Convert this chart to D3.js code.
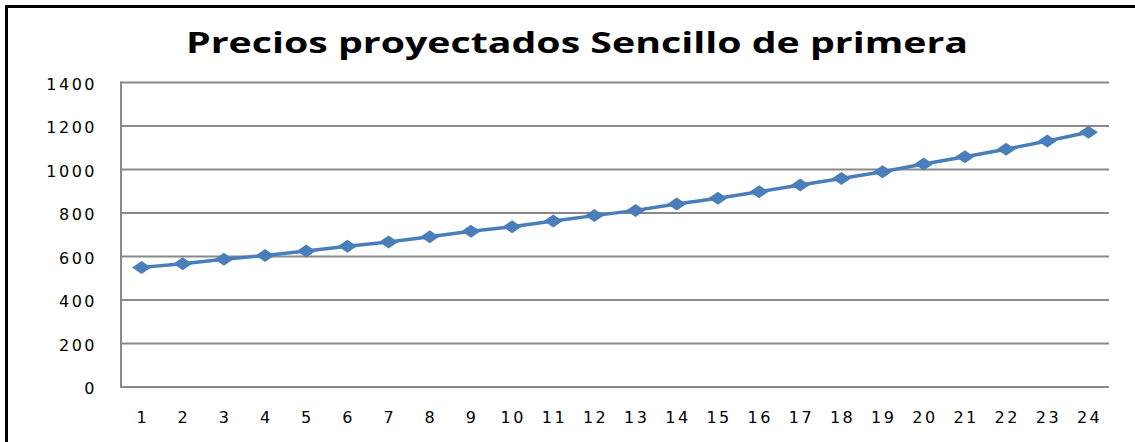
<!DOCTYPE html>
<html lang="es">
    <head>
        <meta charset="UTF-8">
        <title>Precios proyectados Sencillo de primera</title>
        <style>
            body {
                margin: 0;
                background-color: #ffffff;
            }
            text {
                font-family: 'DejaVu Sans', sans-serif;
                fill: #000000;
            }
            .titulo {
                font-family: 'Open Sans', 'DejaVu Sans', sans-serif;
                font-size: 29px;
                font-weight: bold;
            }
            .tick-label {
                font-size: 16px;
                letter-spacing: 2.5px;
            }
            .grid {
                stroke: #8a8a8a;
                stroke-width: 2px;
            }
            .serie {
                fill: none;
                stroke: #4a7ebb;
                stroke-width: 3.5px;
            }
            .marker {
                fill: #4a7ebb;
            }
        </style>
    </head>
    <body>
        <div id="chart"></div>
        <script src="https://d3js.org/d3.v7.min.js"></script>
        <script>
            // datos
            const titulo = "Precios proyectados Sencillo de primera";
            const periodos = ["1","2","3","4","5","6","7","8","9","10","11","12",
                              "13","14","15","16","17","18","19","20","21","22","23","24"];
            const precios = [550, 567, 587, 605, 625, 647, 667, 691, 716, 737, 763, 788,
                             812, 841, 868, 898, 929, 959, 990, 1025, 1059, 1093, 1131, 1171];
            const yTicks = [0, 200, 400, 600, 800, 1000, 1200, 1400];

            const width = 1135;
            const height = 442;
            const plot = { left: 121, right: 1109, top: 82.5, bottom: 387 };

            const svg = d3.select("#chart").append("svg")
                .attr("width", width)
                .attr("height", height);

            // marco exterior (se sale por la derecha y abajo)
            svg.append("rect")
                .attr("x", 6.5)
                .attr("y", 6.5)
                .attr("width", width + 20)
                .attr("height", height + 20)
                .attr("fill", "#ffffff")
                .attr("stroke", "#000000")
                .attr("stroke-width", 3);

            svg.append("text")
                .attr("class", "titulo")
                .attr("x", 577)
                .attr("y", 53)
                .attr("text-anchor", "middle")
                .attr("textLength", 782)
                .attr("lengthAdjust", "spacingAndGlyphs")
                .text(titulo);

            const x = d3.scaleBand()
                .domain(periodos)
                .range([plot.left, plot.right]);

            const y = d3.scaleLinear()
                .domain([0, 1400])
                .range([plot.bottom, plot.top]);

            // lineas de division
            svg.append("g")
                .selectAll("line")
                .data(yTicks)
                .enter().append("line")
                .attr("class", "grid")
                .attr("x1", plot.left)
                .attr("x2", plot.right)
                .attr("y1", d => y(d))
                .attr("y2", d => y(d));

            // ejes
            svg.append("line")
                .attr("class", "grid")
                .attr("x1", plot.left)
                .attr("x2", plot.left)
                .attr("y1", y(1400) - 1)
                .attr("y2", y(0) + 1)
                .attr("stroke-width", 3);

            svg.append("line")
                .attr("class", "grid")
                .attr("x1", plot.left)
                .attr("x2", plot.right)
                .attr("y1", y(0))
                .attr("y2", y(0))
                .attr("stroke-width", 3);

            // etiquetas eje Y
            svg.append("g")
                .selectAll("text")
                .data(yTicks)
                .enter().append("text")
                .attr("class", "tick-label")
                .attr("x", 97)
                .attr("y", d => y(d) + 7)
                .attr("text-anchor", "end")
                .text(d => d);

            // etiquetas eje X
            svg.append("g")
                .selectAll("text")
                .data(periodos)
                .enter().append("text")
                .attr("class", "tick-label")
                .attr("x", d => x(d) + x.bandwidth() / 2 + 1.2)
                .attr("y", 423)
                .attr("text-anchor", "middle")
                .text(d => d);

            // serie
            const line = d3.line()
                .x((d, i) => x(periodos[i]) + x.bandwidth() / 2)
                .y(d => y(d));

            svg.append("path")
                .datum(precios)
                .attr("class", "serie")
                .attr("d", line);

            const diamond = "M0,-6.5L9.5,0L0,6.5L-9.5,0Z";
            svg.append("g")
                .selectAll("path")
                .data(precios)
                .enter().append("path")
                .attr("class", "marker")
                .attr("d", diamond)
                .attr("transform", (d, i) => `translate(${x(periodos[i]) + x.bandwidth() / 2},${y(d)})`);
        </script>
    </body>
</html>
